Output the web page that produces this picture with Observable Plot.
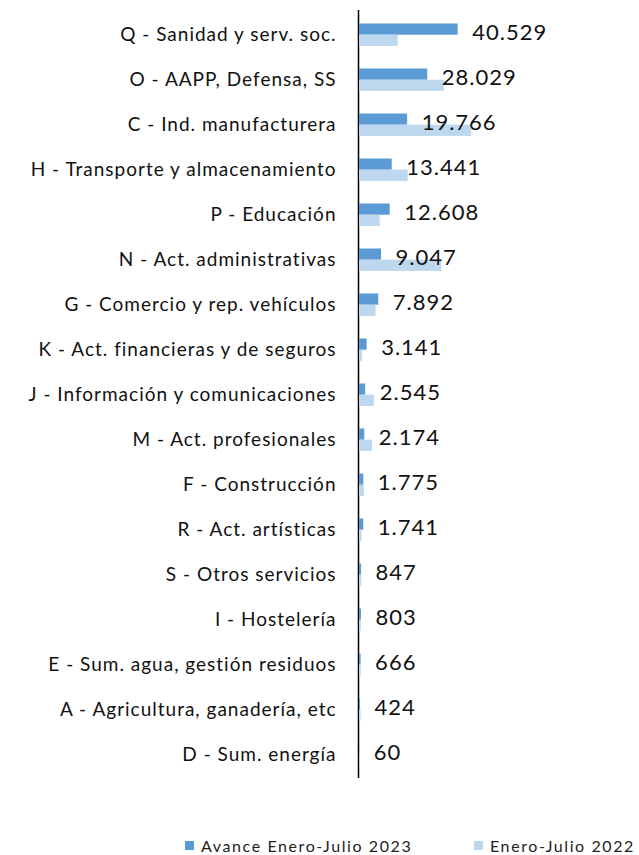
<!DOCTYPE html>
<html>
<head>
<meta charset="utf-8">
<script src="https://cdn.jsdelivr.net/npm/d3@7"></script>
<script src="https://cdn.jsdelivr.net/npm/@observablehq/plot@0.6"></script>
<style>
  html, body { margin: 0; padding: 0; background: #fff; }
  #wrap { position: relative; width: 639px; height: 855px; font-family: Lato, "Open Sans", sans-serif; }
  #chart svg text { letter-spacing: 1px; }
  #legend { position: absolute; top: 836px; left: 0; width: 639px; height: 20px; font-size: 16px; letter-spacing: 1.6px; color: #222; }
  .item { position: absolute; top: 0; display: flex; align-items: center; white-space: nowrap; }
  .sw { width: 9px; height: 9px; margin-right: 7px; }
</style>
</head>
<body>
<div id="wrap">
  <div id="chart"></div>
  <div id="legend"></div>
</div>
<script>
const categories = [
  "Q - Sanidad y serv. soc.",
  "O - AAPP, Defensa, SS",
  "C - Ind. manufacturera",
  "H - Transporte y almacenamiento",
  "P - Educación",
  "N - Act. administrativas",
  "G - Comercio y rep. vehículos",
  "K - Act. financieras y de seguros",
  "J - Información y comunicaciones",
  "M - Act. profesionales",
  "F - Construcción",
  "R - Act. artísticas",
  "S - Otros servicios",
  "I - Hostelería",
  "E - Sum. agua, gestión residuos",
  "A - Agricultura, ganadería, etc",
  "D - Sum. energía"
];
const values2023 = [40529, 28029, 19766, 13441, 12608, 9047, 7892, 3141, 2545, 2174, 1775, 1741, 847, 803, 666, 424, 60];
const values2022 = [15900, 34800, 46100, 20000, 8500, 33800, 6800, 1200, 6100, 5300, 2000, 1000, 900, 750, 700, 650, 200];
const labels2023 = ["40.529", "28.029", "19.766", "13.441", "12.608", "9.047", "7.892", "3.141", "2.545", "2.174", "1.775", "1.741", "847", "803", "666", "424", "60"];
const seriesNames = ["Avance Enero-Julio 2023", "Enero-Julio 2022"];
const seriesColors = ["#5B9BD5", "#BDD7EE"];

const rows = categories.map((c, i) => ({cat: c, v23: values2023[i], v22: values2022[i], lab: labels2023[i]}));

const chart = Plot.plot({
  width: 639,
  height: 790,
  marginLeft: 359,
  marginRight: 0,
  marginTop: 10,
  marginBottom: 12,
  style: {fontFamily: "Lato, 'Open Sans', sans-serif", background: "#fff", color: "#111"},
  x: {domain: [0, 115000], axis: null},
  y: {domain: categories, padding: 0, label: null, axis: null},
  marks: [
    Plot.ruleX([0], {stroke: "#000", strokeWidth: 1.5, dx: -1}),
    Plot.barX(rows, {y: "cat", x: "v23", fill: seriesColors[0], insetTop: 11.5, insetBottom: 22.3}),
    Plot.barX(rows, {y: "cat", x: "v22", fill: seriesColors[1], insetTop: 22.7, insetBottom: 11.1}),
    Plot.text(rows, {y: "cat", x: "v23", text: "lab", dx: 14, dy: -2, textAnchor: "start", fontSize: 22, fill: "#111"}),
    Plot.axisY({tickSize: 0, tickPadding: 23, fontSize: 19, label: null})
  ]
});
document.getElementById("chart").appendChild(chart);

const legend = document.getElementById("legend");
const lx = [185, 474];
seriesNames.forEach((n, i) => {
  const it = document.createElement("div");
  it.className = "item";
  it.style.left = lx[i] + "px";
  it.innerHTML = `<span class="sw" style="background:${seriesColors[i]}"></span><span>${n}</span>`;
  legend.appendChild(it);
});
</script>
</body>
</html>
